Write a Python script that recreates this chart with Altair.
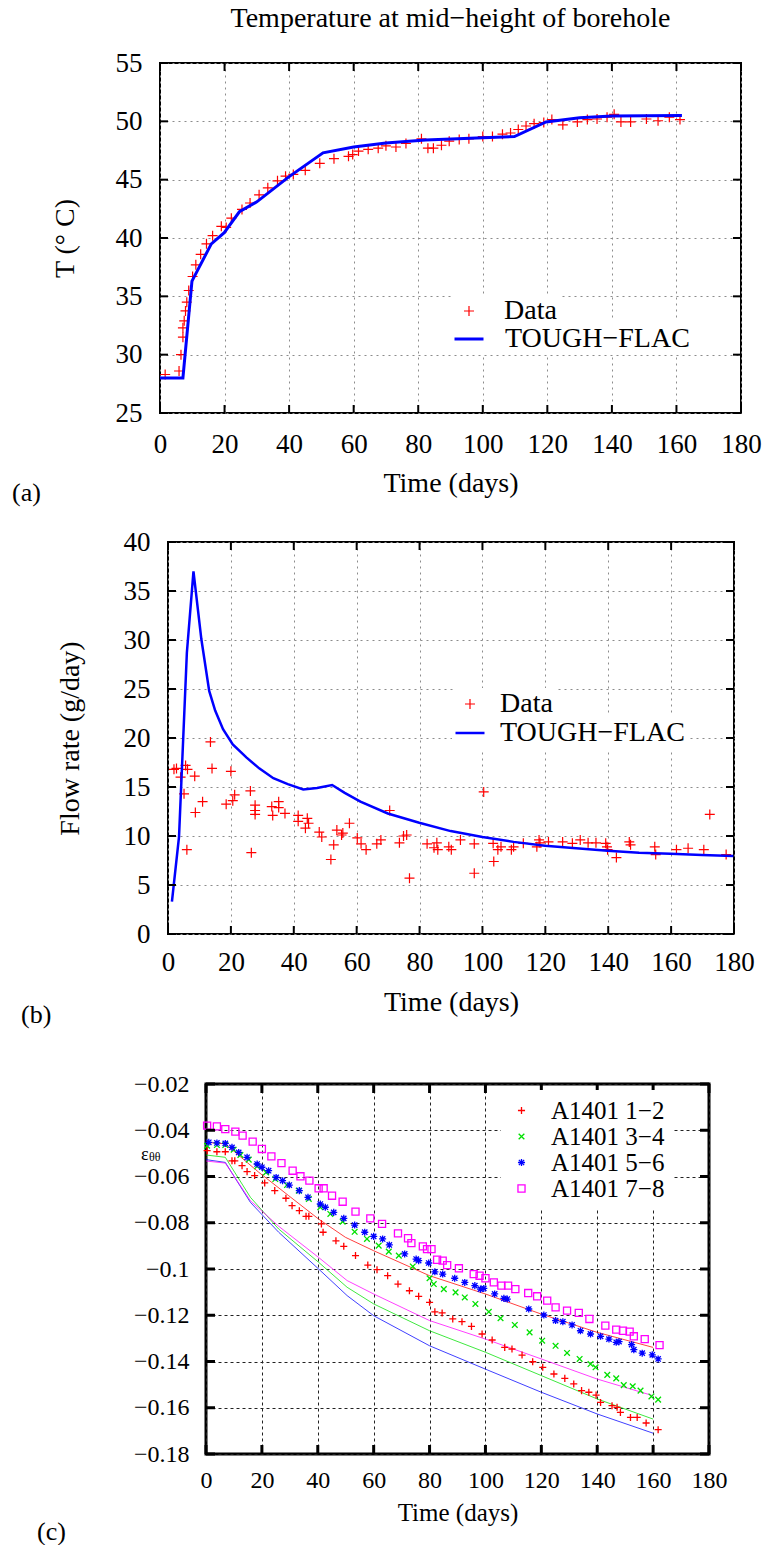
import altair as alt
import pandas as pd

FONT = "Liberation Serif"

# ---------------- shared tick values / texts ----------------
x_ticks = [0, 20, 40, 60, 80, 100, 120, 140, 160, 180]
a_y_ticks = [25, 30, 35, 40, 45, 50, 55]
b_y_ticks = [0, 5, 10, 15, 20, 25, 30, 35, 40]
c_y_ticks = [-0.18, -0.16, -0.14, -0.12, -0.10, -0.08, -0.06, -0.04, -0.02]
panel_labels = ["(a)", "(b)", "(c)"]
a_title = ["Temperature at mid\u2212height of borehole"]

# ---------------- panel (a): temperature ----------------
a_model_t = [0, 7.1, 9.9, 15.9, 19.9, 24.6, 30, 39.7, 50.5, 60, 70, 82.3, 100, 109.8, 119.6, 130, 140, 161.7]
a_model_T = [28, 28, 36.3, 39.5, 40.45, 42.25, 43.1, 45.2, 47.3, 47.8, 48.15, 48.4, 48.6, 48.7, 49.95, 50.3, 50.45, 50.5]
a_data_t = [1.6, 5.9, 6.5, 7.1, 7.1, 7.5, 7.9, 8.3, 8.9, 10.1, 11.1, 12.6, 14.4, 16.3, 19.0, 20.5, 22.1, 25.4, 27.9, 30.7,
            33.4, 36.4, 38.9, 41.3, 45.0, 49.5, 53.9, 58.4, 59.7, 61.5, 64.5, 67.6, 70.0, 73.1, 76.2, 81.0, 83.0, 84.7, 87.2, 89.6,
            92.7, 95.7, 100.0, 103.0, 106.1, 108.6, 111.0, 113.4, 115.9, 118.9, 121.4, 124.8, 129.3, 132.4, 135.4, 138.5, 140.7,
            142.8, 145.8, 150.7, 154.3, 157.8, 161.1]
a_data_T = [28.3, 28.6, 30.0, 31.5, 32.3, 32.9, 33.75, 34.5, 35.5, 36.7, 37.7, 38.6, 39.5, 40.2, 41.0, 40.9, 41.7, 42.45, 43.0, 43.7,
            44.3, 44.9, 45.3, 45.45, 45.8, 46.4, 46.8, 47.0, 47.15, 47.45, 47.6, 47.7, 47.9, 47.8, 48.1, 48.5, 47.7, 47.7, 47.95, 48.3,
            48.45, 48.5, 48.7, 48.7, 48.9, 49.0, 49.3, 49.6, 49.8, 49.9, 50.15, 49.7, 49.95, 50.15, 50.2, 50.35, 50.6,
            49.95, 49.95, 50.2, 50.05, 50.35, 50.15]

# ---------------- panel (b): flow rate ----------------
b_model_t = [1.25, 3.5, 6.0, 8.1, 10.6, 13.1, 15.0, 17.5, 20.6, 25.0, 29.0, 33.5, 38.1, 43.0, 47.4, 52.2, 56.2, 61.2, 69.9, 79.9,
             89.9, 100.0, 109.9, 119.9, 129.8, 139.8, 149.8, 159.8, 169.8, 179.8]
b_model_q = [3.3, 9.9, 28.7, 37.0, 30.1, 24.8, 22.8, 20.9, 19.35, 18.0, 16.9, 15.9, 15.3, 14.75, 14.9, 15.2, 14.4, 13.5, 12.3, 11.35,
             10.5, 9.9, 9.4, 9.0, 8.75, 8.5, 8.3, 8.2, 8.05, 7.97]
b_data_t = [1.9, 2.7, 4.0, 5.6, 6.2, 5.1, 6.0, 8.5, 8.7, 11.0, 13.5, 14.0, 18.5, 20.0, 20.6, 21.2, 26.2, 26.5, 27.7, 27.7,
            27.7, 33.0, 33.3, 35.2, 35.2, 37.2, 41.4, 41.4, 44.3, 44.7, 43.7, 48.1, 48.9, 51.8, 52.7, 53.7, 55.2, 55.6, 57.7, 60.2,
            61.4, 63.0, 66.4, 67.7, 70.5, 73.6, 74.9, 75.9, 76.8, 82.4, 84.6, 85.5, 85.8, 89.3, 90.1, 93.0, 97.4, 97.4, 100.4, 103.4,
            103.6, 104.9, 105.9, 109.2, 109.9, 113.0, 117.3, 118.0, 118.3, 121.0, 125.5, 128.6, 131.1, 133.6, 136.1, 139.2, 139.6,
            139.8, 142.6, 146.7, 147.1, 154.8, 155.1, 161.7, 165.4, 170.4, 172.3, 177.5]
b_data_q = [16.8, 16.9, 16.0, 17.2, 16.8, 14.3, 8.6, 16.1, 12.4, 13.5, 19.6, 16.9, 13.25, 16.6, 13.6, 14.2, 14.6, 8.3, 13.15, 12.6,
            12.2, 13.0, 12.1, 13.5, 12.9, 12.3, 12.1, 11.5, 11.8, 11.3, 10.8, 10.4, 9.9, 7.6, 9.1, 10.6, 10.1, 10.3, 11.3, 9.8,
            9.2, 8.6, 9.2, 9.6, 12.6, 9.3, 10.0, 10.1, 5.7, 9.2, 8.8, 9.3, 8.6, 8.9, 8.6, 9.6, 9.2, 6.2, 14.5, 9.25,
            7.4, 8.6, 8.9, 8.6, 8.9, 9.25, 8.9, 9.6, 9.3, 9.4, 9.4, 9.25, 9.6, 9.3, 9.3, 9.25, 8.9,
            8.6, 7.8, 9.4, 9.1, 8.9, 8.1, 8.6, 8.75, 8.6, 12.2, 8.1]

# ---------------- panel (c): hoop strain ----------------
c_series = ["A1401 1\u22122", "A1401 3\u22124", "A1401 5\u22126", "A1401 7\u22128"]
c_colors = ["#ff0000", "#00e000", "#0000ff", "#ff00ff"]
c12_t = [0.4, 3.9, 6.9, 9.3, 10.3, 12.9, 14.7, 17.4, 21.0, 24.6, 28.6, 30.8, 33.4, 35.8, 36.8, 41.3, 41.9, 46.5, 49.3, 53.5,
         57.9, 61.2, 65.0, 68.7, 72.8, 76.1, 80.0, 81.9, 84.5, 88.3, 91.6, 95.0, 98.8, 102.4, 106.9, 109.5, 113.1, 116.9, 120.5, 124.5,
         128.4, 131.6, 134.4, 137.0, 139.6, 141.2, 145.3, 147.1, 148.3, 151.9, 154.3, 157.5, 161.8]
c12_e = [-0.0488, -0.0493, -0.0493, -0.0532, -0.0532, -0.0553, -0.0579, -0.0596, -0.0628, -0.0661, -0.0694, -0.0726, -0.0748,
         -0.0772, -0.0772, -0.0805, -0.0841, -0.0878, -0.0902, -0.0942, -0.0983, -0.1003, -0.1029, -0.1065, -0.1094, -0.1118,
         -0.1144, -0.1185, -0.119, -0.1216, -0.1228, -0.1248, -0.1281, -0.1307, -0.1339, -0.1346, -0.1372, -0.1401, -0.1425,
         -0.1454, -0.1473, -0.1497, -0.1526, -0.1533, -0.1545, -0.1577, -0.1591, -0.1598, -0.162, -0.1642, -0.1642, -0.1666, -0.1695]
c34_t = [0.4, 3.9, 6.9, 9.9, 12.3, 15.3, 18.3, 21.5, 24.8, 29.0, 33.2, 36.8, 40.9, 44.5, 48.9, 53.2, 57.6, 61.8, 65.4, 69.0,
         74.0, 80.0, 81.5, 85.1, 89.3, 92.6, 96.4, 101.2, 105.4, 110.5, 115.8, 120.3, 125.1, 129.2, 133.7, 137.6, 139.4, 143.6,
         146.8, 149.5, 152.7, 155.5, 159.4, 161.8]
c34_e = [-0.0467, -0.0464, -0.0464, -0.0484, -0.0507, -0.0527, -0.0556, -0.0582, -0.0611, -0.0637, -0.0661, -0.0697, -0.0733,
         -0.0762, -0.0795, -0.0839, -0.087, -0.0899, -0.0925, -0.0942, -0.0989, -0.104, -0.1065, -0.1087, -0.1101, -0.1123,
         -0.1151, -0.1185, -0.1213, -0.1242, -0.1274, -0.131, -0.1332, -0.1363, -0.1389, -0.1411, -0.1425, -0.1458, -0.1473,
         -0.1502, -0.1507, -0.1526, -0.1551, -0.1565]
c56_t = [1.0, 3.9, 6.9, 9.3, 11.7, 14.7, 18.3, 20.0, 22.4, 25.1, 27.4, 29.8, 33.4, 36.5, 40.9, 42.7, 45.7, 49.3, 53.2, 56.8,
         60.0, 63.2, 65.6, 71.1, 75.2, 76.1, 79.7, 81.9, 84.7, 89.0, 92.6, 96.2, 98.2, 99.4, 103.3, 106.6, 107.8, 115.5, 120.9, 125.1,
         127.7, 131.0, 134.0, 137.6, 141.2, 144.2, 146.8, 147.8, 152.3, 153.1, 156.1, 159.7, 161.8]
c56_e = [-0.0452, -0.0455, -0.0457, -0.0474, -0.0496, -0.0517, -0.0546, -0.056, -0.0575, -0.0604, -0.0618, -0.0637, -0.0661,
         -0.069, -0.0719, -0.0733, -0.0755, -0.0781, -0.081, -0.0841, -0.0859, -0.087, -0.0896, -0.0935, -0.0957, -0.0964,
         -0.0974, -0.1012, -0.1022, -0.104, -0.1058, -0.1072, -0.1087, -0.1084, -0.1108, -0.1127, -0.113, -0.1173, -0.1199,
         -0.1223, -0.1228, -0.1242, -0.1267, -0.1281, -0.1291, -0.1303, -0.1317, -0.1314, -0.1327, -0.1349, -0.1364, -0.1371, -0.1389]
c78_t = [0.4, 3.9, 6.9, 10.5, 13.1, 16.7, 20.0, 23.4, 27.0, 31.0, 33.8, 37.0, 40.3, 42.1, 45.1, 48.9, 53.5, 58.8, 63.0, 68.7,
         72.3, 73.5, 77.6, 79.1, 80.7, 82.7, 84.7, 86.3, 90.5, 95.8, 97.9, 100.0, 103.0, 105.7, 108.1, 110.7, 115.3, 118.5, 122.1,
         125.1, 129.2, 133.4, 137.2, 142.9, 146.8, 149.2, 151.6, 153.1, 157.0, 162.3]
c78_e = [-0.038, -0.0383, -0.0395, -0.0406, -0.0423, -0.0449, -0.0481, -0.0513, -0.0542, -0.0575, -0.0599, -0.0618, -0.0651,
         -0.0651, -0.0683, -0.0709, -0.0752, -0.0781, -0.0805, -0.0846, -0.0867, -0.0888, -0.0902, -0.0914, -0.0914, -0.096,
         -0.0964, -0.0983, -0.0997, -0.1022, -0.1029, -0.104, -0.1058, -0.1072, -0.1072, -0.1087, -0.1104, -0.1118, -0.1137,
         -0.1166, -0.118, -0.119, -0.1216, -0.1245, -0.1262, -0.1267, -0.1271, -0.1291, -0.1303, -0.1329]
c_line_t = [0, 6.9, 15.9, 26.0, 40.3, 50.5, 60, 80, 100, 120, 140, 160]
c_red_line_t = [0, 6.9, 18.9, 29.6, 40.3, 49.9, 60, 80, 100, 120, 140, 160]
c_red_line_e = [-0.0452, -0.0459, -0.0582, -0.0683, -0.0784, -0.0863, -0.0921, -0.1029, -0.1108, -0.1195, -0.1274, -0.1339]
c_grn_line_e = [-0.0507, -0.0517, -0.069, -0.0827, -0.0971, -0.1079, -0.1151, -0.1267, -0.136, -0.1461, -0.1562, -0.1649]
c_blu_line_e = [-0.0527, -0.0539, -0.0712, -0.0841, -0.1, -0.1115, -0.1202, -0.1332, -0.1433, -0.1533, -0.1627, -0.171]
c_mag_line_e = [-0.0533, -0.0542, -0.0705, -0.0815, -0.095, -0.105, -0.1108, -0.1223, -0.1303, -0.1389, -0.1476, -0.1548]

PLUS = "M-1,0L1,0M0,-1L0,1"
XMARK = "M-0.8,-0.8L0.8,0.8M-0.8,0.8L0.8,-0.8"
STAR = "M-1,0L1,0M0,-1L0,1M-0.75,-0.75L0.75,0.75M-0.75,0.75L0.75,-0.75"
SQUARE = "M-1,-1L1,-1L1,1L-1,1Z"


def make_axis(values, title, lsize, tsize, lpad, tpad, dash, gcolor, fmt=None):
    kw = dict(values=values, title=title, grid=True, gridDash=dash, gridColor=gcolor, gridWidth=1, gridOpacity=1,
              ticks=False, tickSize=0, domain=False, labelFont=FONT, labelFontSize=lsize, labelColor="black",
              labelPadding=lpad, labelFlush=False, labelOverlap=False, titleFont=FONT, titleFontSize=tsize,
              titleFontWeight="normal", titleColor="black", titlePadding=tpad)
    if fmt:
        kw["format"] = fmt
    return alt.Axis(**kw)


def inward_ticks(xt, yt, X, Y, W, H, L, sw):
    # tick positions go through the same x / y encodings (and axes) as the data
    dx = pd.DataFrame({"t": xt})
    dy = pd.DataFrame({"v": yt})
    rx = alt.Chart(dx).mark_rule(color="black", strokeWidth=sw)
    ry = alt.Chart(dy).mark_rule(color="black", strokeWidth=sw)
    return [
        rx.encode(x=X, y=alt.value(H), y2=alt.value(H - L)),
        rx.encode(x=X, y=alt.value(0), y2=alt.value(L)),
        ry.encode(y=Y, x=alt.value(0), x2=alt.value(L)),
        ry.encode(y=Y, x=alt.value(W), x2=alt.value(W - L)),
    ]


def row(panel, label, lab_x, lab_y, w_sp, H):
    """Left margin column holding the panel letter; its width sets where the panel starts."""
    df = pd.DataFrame({"lab": [label]})
    vis = alt.Chart(df).mark_text(align="left", baseline="alphabetic", font=FONT, fontSize=26,
                                  color="black").encode(text="lab:N", x=alt.value(lab_x), y=alt.value(lab_y))
    inv_l = alt.Chart(df).mark_text(align="left", baseline="middle", font=FONT, fontSize=26,
                                    opacity=0).encode(text="lab:N", x=alt.value(0), y=alt.value(H / 2))
    inv_r = alt.Chart(df).mark_text(align="right", baseline="middle", font=FONT, fontSize=26,
                                    opacity=0).encode(text="lab:N", x=alt.value(w_sp), y=alt.value(H / 2))
    spacer = alt.layer(vis, inv_l, inv_r).properties(
        width=w_sp, height=H, view=alt.ViewBackground(stroke="transparent", strokeWidth=0))
    return alt.hconcat(spacer, panel, spacing=0).resolve_scale(color="independent", shape="independent")


GRID_AB = "#8c8c8c"

# ======================= panel (a) =======================
W_A, H_A = 581, 350
xs_a = alt.Scale(domain=[0, 180], nice=False, zero=False)
ys_a = alt.Scale(domain=[25, 55], nice=False, zero=False)
df_a_model = pd.DataFrame({"t": a_model_t, "v": a_model_T, "ln": "TOUGH\u2212FLAC"})
df_a_data = pd.DataFrame({"t": a_data_t, "v": a_data_T, "pt": "Data"})
xa = alt.X("t:Q", scale=xs_a, axis=make_axis(x_ticks, "Time (days)", 27, 28, 18, 12, [2, 4], GRID_AB))
ya = alt.Y("v:Q", scale=ys_a, axis=make_axis(a_y_ticks, "T (\u00b0 C)", 27, 28, 18, 36, [2, 4], GRID_AB))

pts_a = alt.Chart(df_a_data).mark_point(filled=False, color="#ff0000", strokeWidth=1.2, size=100, opacity=1).encode(
    x=xa, y=ya,
    shape=alt.Shape("pt:N", scale=alt.Scale(domain=["Data"], range=[PLUS]),
                    legend=alt.Legend(title=None, orient="none", legendX=293, legendY=232, labelFont=FONT,
                                      labelFontSize=28, labelColor="black", labelLimit=400, symbolSize=100,
                                      symbolStrokeWidth=1.2, symbolStrokeColor="#ff0000", labelOffset=21,
                                      fillColor="white", padding=2)))
line_a = alt.Chart(df_a_model).mark_line(strokeWidth=3).encode(
    x=xa, y=ya,
    color=alt.Color("ln:N", scale=alt.Scale(domain=["TOUGH\u2212FLAC"], range=["#0000ff"]),
                    legend=alt.Legend(title=None, orient="none", legendX=291, legendY=258, labelFont=FONT,
                                      labelFontSize=28, labelColor="black", labelLimit=400, symbolType="stroke",
                                      symbolSize=841, symbolStrokeWidth=3, labelOffset=20, fillColor="white",
                                      padding=2)))
title_a = alt.Chart(pd.DataFrame({"ttl": a_title})).mark_text(
    align="center", baseline="middle", font=FONT, fontSize=28, color="black").encode(
    text="ttl:N", x=alt.value(W_A / 2), y=alt.value(-44))

panel_a = alt.layer(
    pts_a, line_a, *inward_ticks(x_ticks, a_y_ticks, xa, ya, W_A, H_A, 8, 2), title_a
).properties(width=W_A, height=H_A, view=alt.ViewBackground(stroke="black", strokeWidth=2))

# ======================= panel (b) =======================
W_B, H_B = 566, 392
xs_b = alt.Scale(domain=[0, 180], nice=False, zero=False)
ys_b = alt.Scale(domain=[0, 40], nice=False, zero=False)
df_b_model = pd.DataFrame({"t": b_model_t, "v": b_model_q, "ln": "TOUGH\u2212FLAC"})
df_b_data = pd.DataFrame({"t": b_data_t, "v": b_data_q, "pt": "Data"})
xb = alt.X("t:Q", scale=xs_b, axis=make_axis(x_ticks, "Time (days)", 27, 28, 15, 13, [2, 4], GRID_AB))
yb = alt.Y("v:Q", scale=ys_b, axis=make_axis(b_y_ticks, "Flow rate (g/day)", 27, 28, 18, 39, [2, 4], GRID_AB))

pts_b = alt.Chart(df_b_data).mark_point(filled=False, color="#ff0000", strokeWidth=1.2, size=100, opacity=1).encode(
    x=xb, y=yb,
    shape=alt.Shape("pt:N", scale=alt.Scale(domain=["Data"], range=[PLUS]),
                    legend=alt.Legend(title=None, orient="none", legendX=286, legendY=146, labelFont=FONT,
                                      labelFontSize=28, labelColor="black", labelLimit=400, symbolSize=100,
                                      symbolStrokeWidth=1.2, symbolStrokeColor="#ff0000", labelOffset=16,
                                      fillColor="white", padding=2)))
line_b = alt.Chart(df_b_model).mark_line(strokeWidth=2.5).encode(
    x=xb, y=yb,
    color=alt.Color("ln:N", scale=alt.Scale(domain=["TOUGH\u2212FLAC"], range=["#0000ff"]),
                    legend=alt.Legend(title=None, orient="none", legendX=284, legendY=173, labelFont=FONT,
                                      labelFontSize=28, labelColor="black", labelLimit=400, symbolType="stroke",
                                      symbolSize=841, symbolStrokeWidth=2.5, labelOffset=14, fillColor="white",
                                      padding=2)))

panel_b = alt.layer(
    pts_b, line_b, *inward_ticks(x_ticks, b_y_ticks, xb, yb, W_B, H_B, 8, 2)
).properties(width=W_B, height=H_B, view=alt.ViewBackground(stroke="black", strokeWidth=2))

# ======================= panel (c) =======================
W_C, H_C = 503, 370
xs_c = alt.Scale(domain=[0, 180], nice=False, zero=False)
ys_c = alt.Scale(domain=[-0.18, -0.02], nice=False, zero=False)

pts_frames = []
for name, tt, ee in zip(c_series, [c12_t, c34_t, c56_t, c78_t], [c12_e, c34_e, c56_e, c78_e]):
    pts_frames.append(pd.DataFrame({"t": tt, "v": ee, "pt": name}))
df_c_pts = pd.concat(pts_frames, ignore_index=True)

xc = alt.X("t:Q", scale=xs_c, axis=make_axis(x_ticks, "Time (days)", 24, 25, 14, 8, [3, 3], "#222222"))
yc = alt.Y("v:Q", scale=ys_c, axis=make_axis(c_y_ticks, "", 24, 24, 17, 10, [3, 3], "#222222", fmt=".2~f"))

line_layers_c = []
for tt, ee, col in zip([c_red_line_t, c_line_t, c_line_t, c_line_t],
                       [c_red_line_e, c_grn_line_e, c_blu_line_e, c_mag_line_e], c_colors):
    line_layers_c.append(alt.Chart(pd.DataFrame({"t": tt, "v": ee})).mark_line(
        strokeWidth=1, color=col, opacity=0.75).encode(x=xc, y=yc))

leg_c = alt.Legend(title=None, orient="none", legendX=295, legendY=6, labelFont=FONT, labelFontSize=25,
                   labelColor="black", labelLimit=400, symbolSize=50, symbolStrokeWidth=1.3, labelOffset=17,
                   rowPadding=0, fillColor="white", padding=8)
pts_c = alt.Chart(df_c_pts).mark_point(filled=False, strokeWidth=1.3, size=50, opacity=1).encode(
    x=xc, y=yc,
    color=alt.Color("pt:N", scale=alt.Scale(domain=c_series, range=c_colors), legend=leg_c),
    shape=alt.Shape("pt:N", scale=alt.Scale(domain=c_series, range=[PLUS, XMARK, STAR, SQUARE]), legend=leg_c))

eps_df = pd.DataFrame({"lab": ["\u03b5"]})
th_df = pd.DataFrame({"lab": ["\u03b8\u03b8"]})
eps = alt.Chart(eps_df).mark_text(align="left", baseline="alphabetic", font=FONT, fontSize=18, color="black").encode(
    text="lab:N", x=alt.value(-65), y=alt.value(76))
theta = alt.Chart(th_df).mark_text(align="left", baseline="alphabetic", font=FONT, fontSize=12, color="black").encode(
    text="lab:N", x=alt.value(-57), y=alt.value(77))

panel_c = alt.layer(
    *line_layers_c, pts_c, *inward_ticks(x_ticks, c_y_ticks, xc, yc, W_C, H_C, 9, 3), eps, theta
).properties(width=W_C, height=H_C, view=alt.ViewBackground(stroke="black", strokeWidth=3))

row_a = row(panel_a, panel_labels[0], 12, 438, 50, H_A)
row_b = row(panel_b, panel_labels[1], 21, 481, 55, H_B)
row_c = row(panel_c, panel_labels[2], 37, 456, 131, H_C)

inner = alt.concat(row_b, row_c, columns=1, spacing=42).resolve_scale(color="independent", shape="independent")
chart = alt.concat(row_a, inner, columns=1, spacing=21).resolve_scale(
    color="independent", shape="independent").properties(
    padding={"left": 0, "top": 4, "right": 0, "bottom": 0}, background="white"
)

chart.save("out.html", embed_options={"renderer": "svg", "actions": False})
